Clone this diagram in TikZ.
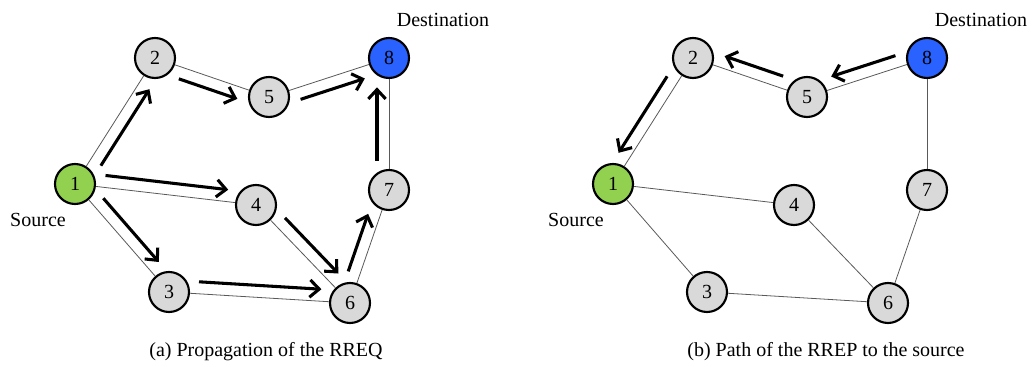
\documentclass[tikz,border=0pt]{standalone}
\usepackage{fontspec}
\setmainfont{Liberation Serif}
\usetikzlibrary{calc,arrows.meta}

\definecolor{nodegray}{RGB}{217,217,217}
\definecolor{srcgreen}{RGB}{146,208,80}
\definecolor{dstblue}{RGB}{41,98,255}

\tikzset{every picture/.style={line width=0.75pt}}
\tikzset{
  station/.style={circle,draw=black,line width=1.6pt,minimum size=30pt,inner sep=0pt,font=\fontsize{15}{18}\selectfont},
  link/.style={draw=black!65,line width=0.6pt},
  flow/.style={line width=2.3pt,-{Straight Barb[length=7pt,width=13pt]}},
  tag/.style={inner sep=0.75pt,font=\fontsize{15}{18}\selectfont}
}

\begin{document}
\begin{tikzpicture}[x=0.75pt,y=0.75pt,yscale=-1,xscale=1]
\useasboundingbox (0,0) rectangle (1033,367);

%Shape: Circles, both panels (b is a shifted by 538)
\foreach \n/\x/\y/\c in {1/75/184/srcgreen,2/155/58/nodegray,3/169/292/nodegray,4/256/205/nodegray,
                         5/269/97/nodegray,6/350/303/nodegray,7/389/190/nodegray,8/389/58/dstblue}{
  \node[station,fill=\c] (a\n) at (\x,\y) {\n};
  \node[station,fill=\c] (b\n) at (\x+538,\y) {\n};
}

%Straight Lines: links
\foreach \s/\t in {1/2,1/4,1/3,2/5,5/8,8/7,7/6,4/6,3/6}{
  \draw[link] (a\s) -- (a\t);
  \draw[link] (b\s) -- (b\t);
}

%Arrows: RREQ flooding (a)
\foreach \s/\t/\o in {1/2/90,2/5/90,5/8/90,1/4/-90,1/3/-90,4/6/-90,3/6/-90,6/7/-90,7/8/-90}{
  \draw[flow] ($(a\s)!22pt!(a\t)!9pt!\o:(a\t)$) -- ($(a\t)!22pt!(a\s)!9pt!\o:(a\t)$);
}
%Arrows: RREP back to source (b)
\foreach \s/\t/\o in {8/5/90,5/2/90,2/1/90}{
  \draw[flow] ($(b\s)!22pt!(b\t)!9pt!\o:(b\t)$) -- ($(b\t)!22pt!(b\s)!9pt!\o:(b\t)$);
}

% Text Node
\node[tag] (dsta) at (443,20) {Destination};
\node[tag] (dstb) at (981,20) {Destination};
\node[tag] (srca) at (38,220) {Source};
\node[tag] (srcb) at (576,220) {Source};
\node[tag] (capa) at (266,352) {(a) Propagation of the RREQ};
\node[tag] (capb) at (826,352) {(b) Path of the RREP to the source};

\end{tikzpicture}
\end{document}
